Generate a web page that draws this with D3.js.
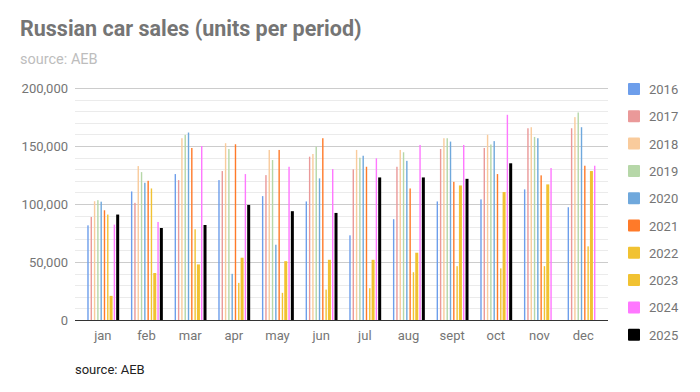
<!DOCTYPE html>
<html lang="en">
<head>
	<meta charset="utf-8">
	<title>Russian car sales</title>
	<script src="https://cdn.jsdelivr.net/npm/d3@7"></script>
	<style>
		body { margin: 0; background: #fff; font-family: Roboto, sans-serif; }
		.axis path { display: none; }
		.axis line { display: none; }
		.axis text { fill: #757575; font-size: 13px; font-family: Roboto, sans-serif; }
		.grid.minor { stroke: #ebebeb; }
		.grid.major { stroke: #cccccc; }
		.legend text { fill: #757575; font-size: 13px; }
	</style>
</head>
<body>
	<div id="chart"></div>

	<script>
		var months = ["jan", "feb", "mar", "apr", "may", "jun", "jul", "aug", "sept", "oct", "nov", "dec"];
		var years = ["2016", "2017", "2018", "2019", "2020", "2021", "2022", "2023", "2024", "2025"];
		var yTicks = [0, 50000, 100000, 150000, 200000];

		// units sold per month, one array per year
		var s2016 = [81600, 110800, 125800, 120600, 106800, 102200, 73000, 86900, 102200, 104000, 112600, 97200];
		var s2017 = [88800, 101000, 120600, 128400, 124900, 140800, 129900, 132100, 147400, 148300, 165300, 165300];
		var s2018 = [102400, 132700, 156700, 152400, 146600, 143100, 146600, 146600, 156700, 159700, 166200, 174900];
		var s2019 = [103300, 127500, 159600, 147400, 137900, 149400, 139900, 144600, 156700, 151300, 157800, 178900];
		var s2020 = [102000, 118300, 161600, 39800, 64900, 122100, 141600, 137200, 153800, 154200, 156700, 166200];
		var s2021 = [94600, 120000, 148300, 151500, 146600, 156700, 132100, 113400, 119100, 125800, 124700, 133000];
		var s2022 = [90900, 113400, 78200, 32000, 23400, 26200, 27400, 41200, 46400, 44500, 46400, 63500];
		var s2023 = [20800, 40500, 47900, 53700, 50700, 51900, 51900, 58000, 116000, 110300, 116900, 128400];
		var s2024 = [82200, 84500, 150000, 125800, 132100, 130100, 139400, 150900, 150900, 176900, 131000, 133000];
		var s2025 = [90900, 79300, 81900, 99200, 93800, 92300, 122900, 122900, 121700, 135100, null, null];

		var seriesValues = [s2016, s2017, s2018, s2019, s2020, s2021, s2022, s2023, s2024, s2025];
		var colors = ["#6d9eeb", "#ea9999", "#f9cb9c", "#b6d7a8", "#6fa8dc", "#ff7a29", "#f1c232", "#f1c232", "#ff77ff", "#000000"];
		var thick = ["2023", "2025"];

		var w = 700,
		    h = 392;

		var svg = d3.select("#chart")
			.append("svg")
			.attr("width", w)
			.attr("height", h);

		// title
		svg.append("text")
			.attr("x", 20)
			.attr("y", 36)
			.attr("font-size", "21.5px")
			.attr("font-weight", "bold")
			.attr("fill", "#757575")
			.text("Russian car sales (units per period)");

		svg.append("text")
			.attr("x", 20)
			.attr("y", 64)
			.attr("font-size", "14.5px")
			.attr("fill", "#bdbdbd")
			.text("source: AEB");

		var plotLeft = 75, plotRight = 608, plotTop = 88, plotBottom = 320;

		var y = d3.scaleLinear().domain([0, 200000]).range([plotBottom, plotTop]);
		var x0 = d3.scaleBand().domain(months).range([81, 605]);
		var x1 = d3.scaleBand().domain(years)
			.range([x0.bandwidth() / 2 - 16.5, x0.bandwidth() / 2 + 16.5]);

		// gridlines
		svg.selectAll(".grid")
			.data(d3.range(10000, 200001, 10000))
			.enter()
			.append("line")
			.attr("class", function(d) { return d % 50000 == 0 ? "grid major" : "grid minor"; })
			.attr("x1", plotLeft)
			.attr("x2", plotRight)
			.attr("y1", function(d) { return Math.round(y(d)) + 0.5; })
			.attr("y2", function(d) { return Math.round(y(d)) + 0.5; });

		// bars
		var groups = svg.selectAll(".month")
			.data(months)
			.enter()
			.append("g")
			.attr("class", "month")
			.attr("transform", function(d) { return "translate(" + x0(d) + ",0)"; });

		groups.selectAll("rect")
			.data(function(m, i) {
				return years.map(function(yr, j) { return {year: yr, value: seriesValues[j][i], color: colors[j]}; })
					.filter(function(d) { return d.value != null; });
			})
			.enter()
			.append("rect")
			.attr("x", function(d) {
				var bw = thick.indexOf(d.year) >= 0 ? 3 : 1.4;
				return x1(d.year) + x1.bandwidth() / 2 - bw / 2;
			})
			.attr("width", function(d) { return thick.indexOf(d.year) >= 0 ? 3 : 1.4; })
			.attr("y", function(d) { return y(d.value); })
			.attr("height", function(d) { return plotBottom - y(d.value); })
			.attr("fill", function(d) { return d.color; });

		// baseline
		svg.append("line")
			.attr("x1", plotLeft)
			.attr("x2", plotRight)
			.attr("y1", plotBottom + 0.5)
			.attr("y2", plotBottom + 0.5)
			.attr("stroke", "#333");

		// axes
		svg.append("g")
			.attr("class", "axis")
			.attr("transform", "translate(" + (plotLeft - 7) + ",0)")
			.call(d3.axisLeft(y).tickValues(yTicks).tickFormat(d3.format(",")).tickSize(0).tickPadding(0));

		svg.append("g")
			.attr("class", "axis")
			.attr("transform", "translate(0," + (plotBottom + 8) + ")")
			.call(d3.axisBottom(x0).tickSize(0).tickPadding(3));

		// legend
		var legend = svg.append("g")
			.attr("class", "legend")
			.selectAll("g")
			.data(years)
			.enter()
			.append("g")
			.attr("transform", function(d, i) { return "translate(628," + (89 + i * 27.3) + ")"; });

		legend.append("rect")
			.attr("x", 0)
			.attr("y", -6)
			.attr("width", 12)
			.attr("height", 12)
			.attr("rx", 1)
			.attr("fill", function(d, i) { return colors[i]; });

		legend.append("text")
			.attr("x", 21)
			.attr("y", 5)
			.text(function(d) { return d; });

		// footer
		svg.append("text")
			.attr("x", 75)
			.attr("y", 374)
			.attr("font-size", "13px")
			.attr("fill", "#222")
			.text("source: AEB");
	</script>
</body>
</html>
